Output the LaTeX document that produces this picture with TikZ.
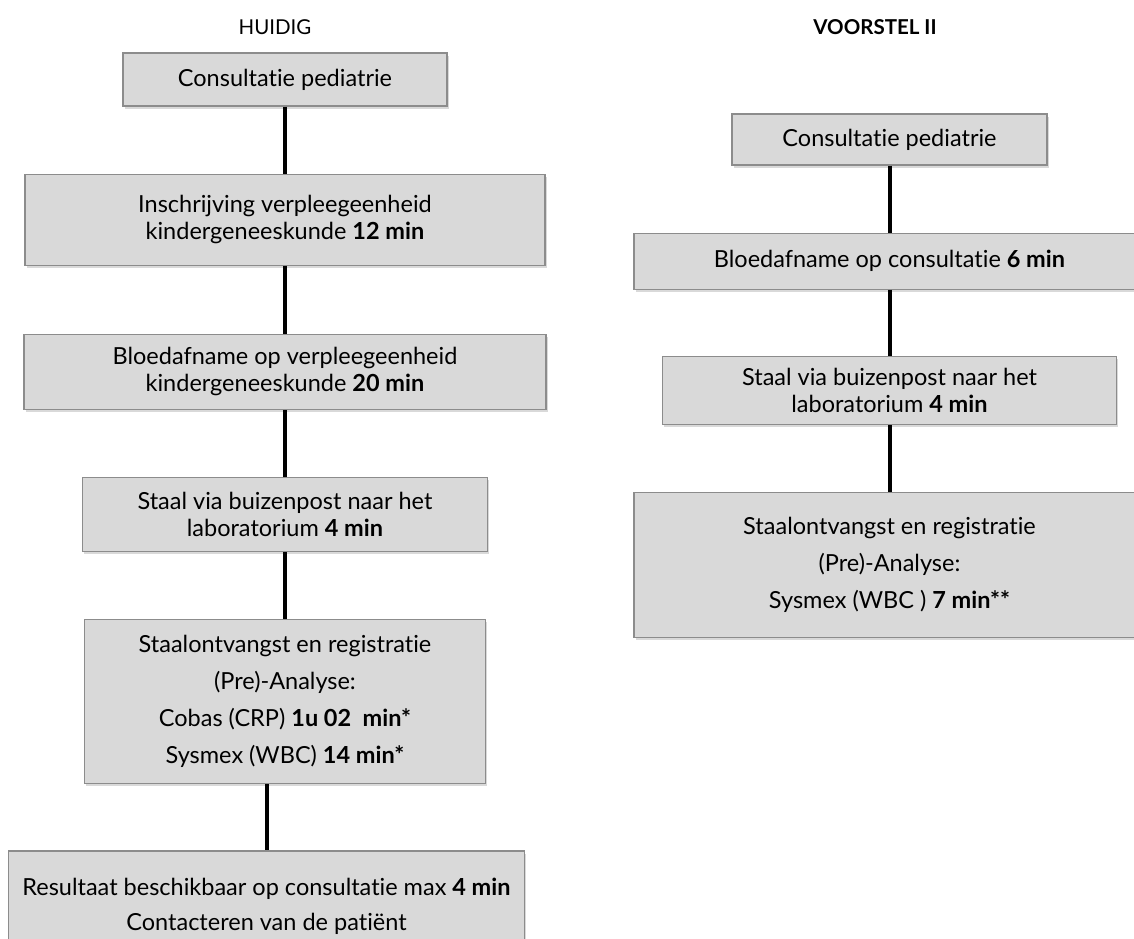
\documentclass[tikz,border=0pt]{standalone}
\usepackage{fontspec}
\setmainfont{Lato}[Ligatures=NoCommon]
\usetikzlibrary{positioning,shadows}
\definecolor{boxfill}{HTML}{D9D9D9}
\definecolor{boxline}{HTML}{8C8C8C}
\tikzset{
  stepbox/.style={
    draw=boxline,
    line width=1.2pt,
    fill=boxfill,
    align=center,
    inner sep=4pt,
    font=\fontsize{23.5}{27}\selectfont,
    drop shadow={shadow xshift=1.5pt, shadow yshift=-2.5pt, opacity=0.3}
  },
  flowline/.style={line width=4pt, draw=black},
  coltitle/.style={font=\fontsize{20.5}{24}\selectfont}
}

\begin{document}
\begin{tikzpicture}[x=1pt,y=-1pt]
\useasboundingbox (0,0) rectangle (1134,938);
\clip (0,0) rectangle (1134,938);
\node[coltitle] (huidig) at (275,27) {HUIDIG};
\node[coltitle, font=\fontsize{20.5}{24}\selectfont\bfseries] (voorstel) at (875,27) {VOORSTEL II};

% huidige flow
\node[stepbox, minimum width=324pt, minimum height=53pt] (hcons) at (285,79.5) {Consultatie pediatrie};
\node[stepbox, below=67pt of hcons, minimum width=520pt, minimum height=91pt] (hinschr) {Inschrijving verpleegeenheid\\kindergeneeskunde \textbf{12 min}};
\node[stepbox, below=68pt of hinschr, minimum width=522pt, minimum height=75pt] (hbloed) {Bloedafname op verpleegeenheid\\kindergeneeskunde \textbf{20 min}};
\node[stepbox, below=67pt of hbloed, minimum width=405pt, minimum height=74pt] (hstaal) {Staal via buizenpost naar het\\laboratorium \textbf{4 min}};
\node[stepbox, below=67pt of hstaal, minimum width=401pt, minimum height=164pt] (hstaalo) {Staalontvangst en registratie\\[10pt](Pre)-Analyse:\\[10pt]Cobas (CRP) \textbf{1u 02\ \ min*}\\[10pt]Sysmex (WBC) \textbf{14 min*}};
\node[stepbox, below=66pt of hstaalo, xshift=-18.5pt, minimum width=516pt, minimum height=110pt] (hresult) {Resultaat beschikbaar op consultatie max \textbf{4 min}\\[8pt]Contacteren van de patiënt};

% voorstel II
\node[stepbox, minimum width=315pt, minimum height=51pt] (vcons) at (889.5,139.5) {Consultatie pediatrie};
\node[stepbox, below=67pt of vcons, minimum width=511pt, minimum height=56pt] (vbloed) {Bloedafname op consultatie \textbf{6 min}};
\node[stepbox, below=66pt of vbloed, minimum width=454pt, minimum height=68pt] (vstaal) {Staal via buizenpost naar het\\laboratorium \textbf{4 min}};
\node[stepbox, below=67pt of vstaal, minimum width=511pt, minimum height=145pt] (vstaalo) {Staalontvangst en registratie\\[10pt](Pre)-Analyse:\\[10pt]Sysmex (WBC ) \textbf{7 min**}};

\foreach \a/\b in {hcons/hinschr,hinschr/hbloed,hbloed/hstaal,hstaal/hstaalo,vcons/vbloed,vbloed/vstaal,vstaal/vstaalo}
  \draw[flowline] (\a.south) -- (\b.north);
\draw[flowline] (hresult.north |- hstaalo.south) -- (hresult.north);
\end{tikzpicture}
\end{document}
